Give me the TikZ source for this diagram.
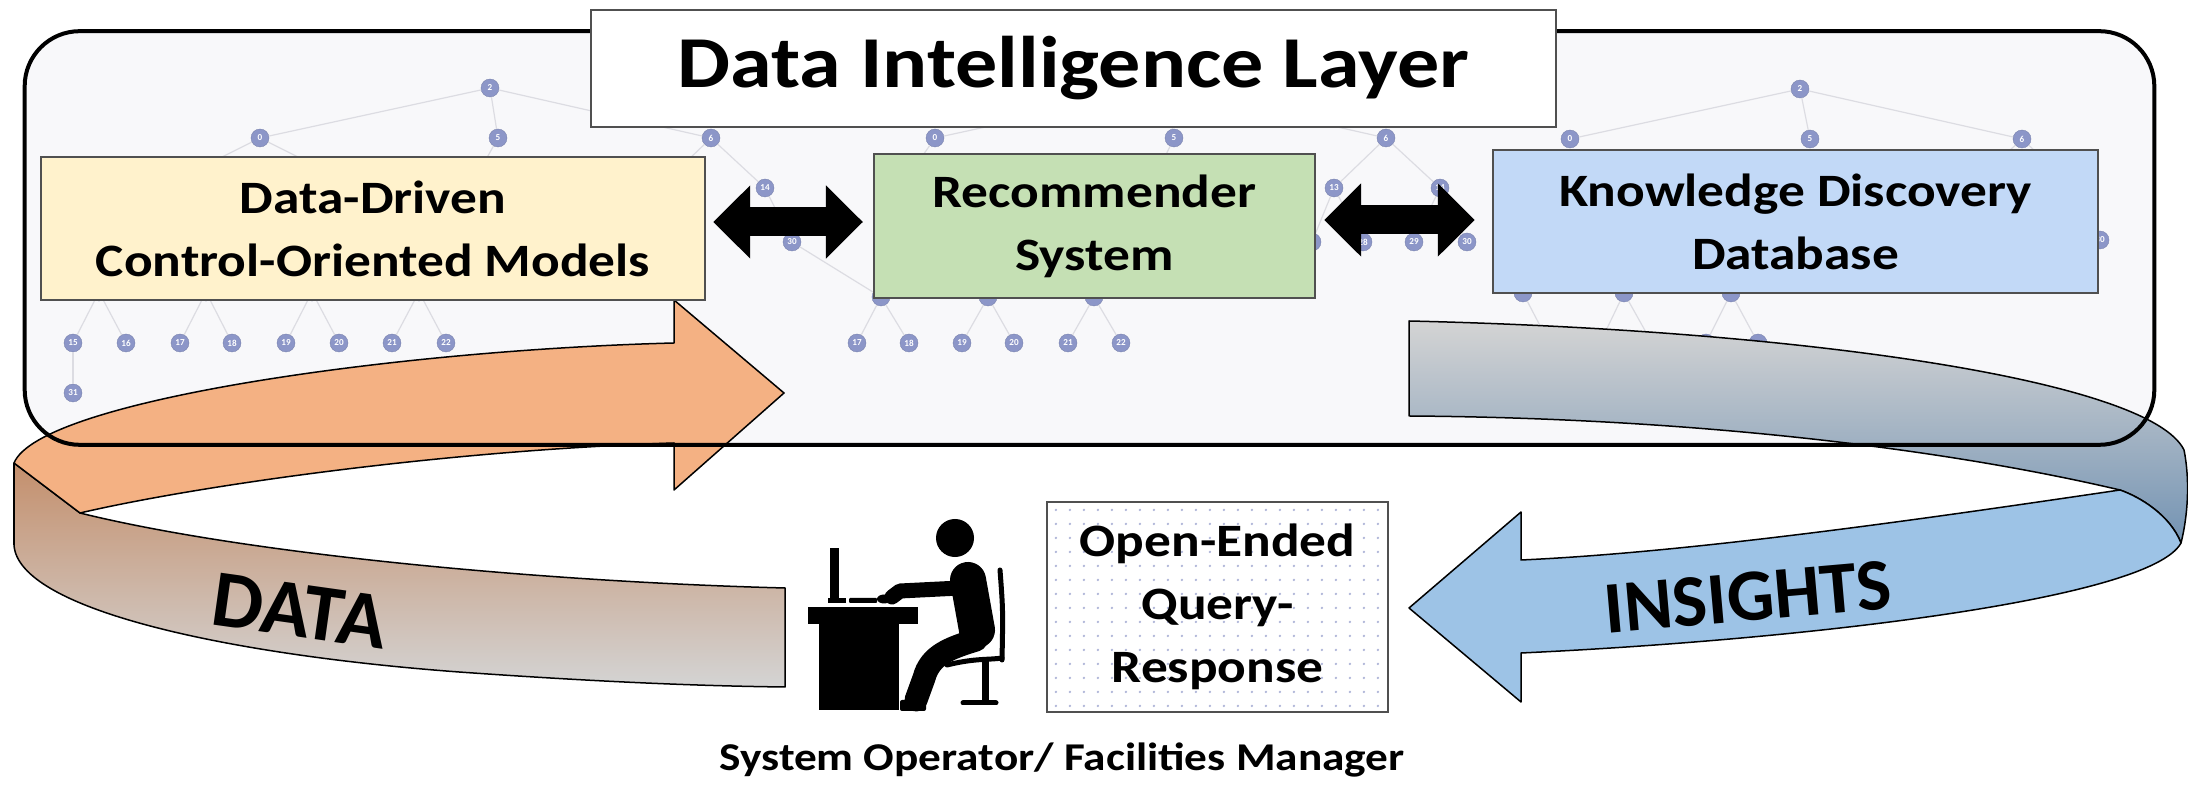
\documentclass[tikz,border=0pt]{standalone}
\usepackage{fontspec}
\usepackage{graphicx}
\setmainfont{Carlito}
\newfontfamily\widefont[FakeStretch=1.15]{Carlito}
\usetikzlibrary{arrows.meta,calc}

\definecolor{layerfill}{HTML}{F8F8FA}
\definecolor{modelfill}{HTML}{FFF2CC}
\definecolor{recfill}{HTML}{C5E0B4}
\definecolor{kddfill}{HTML}{C2D9F7}
\definecolor{boxline}{HTML}{505050}
\definecolor{datatop}{HTML}{F4B183}
\definecolor{databand}{HTML}{C48F6C}
\definecolor{bandgray}{HTML}{D4D4D4}
\definecolor{insfront}{HTML}{9DC3E6}
\definecolor{insback}{HTML}{7393B3}
\definecolor{treenode}{HTML}{8C96C8}
\definecolor{treeedge}{HTML}{DCDCE2}
\definecolor{dotcol}{HTML}{AEB4D8}

\begin{document}
\begin{tikzpicture}[x=0.01cm,y=-0.01cm,
  boxtext/.style={font=\widefont\bfseries\fontsize{13.2pt}{17.9pt}\selectfont, align=center},
  compbox/.style={draw=boxline, line width=0.02cm, boxtext, inner sep=0pt},
  tnode/.style={circle, fill=treenode, draw=treenode!85!black, line width=0.1pt,
    minimum size=0.18cm, inner sep=0pt, text=white,
    font=\bfseries\fontsize{2.6pt}{2.6pt}\selectfont},
  tedge/.style={draw=treeedge, line width=0.012cm},
  fatarrow/.style={draw=black, line width=0.29cm,
    {Triangle[length=0.37cm,width=0.71cm]}-{Triangle[length=0.37cm,width=0.71cm]}},
  ribbon/.style={draw=black, line width=0.015cm, line join=round},
  limb/.style={draw=black, line cap=round, line join=round},
  ribbonlabel/.style={inner sep=0pt, text=black},
]
\useasboundingbox (0,0) rectangle (2188,786);

% ---------- layer background ----------
\node[fill=layerfill, rounded corners=0.55cm, minimum width=21.27cm,
      minimum height=4.12cm, inner sep=0pt] (layer) at (1089.5,238) {};

% ---------- faint tree graph inside the layer ----------
\begin{scope}
\clip[rounded corners=0.55cm] (layer.north west) rectangle (layer.south east);
\foreach \n/\x/\y/\l in {
  L2/490/88/2, L0/260/138/0, L5/498/138/5, L6/711/138/6,
  La/160/188/{}, Lb/360/188/{}, Lc/470/188/{}, L13/659/188/{}, L14/765/188/14,
  L28/688/242/{}, L30/792/242/30,
  Lp1/99/292/{}, Lp2/206/292/{}, Lp3/312/292/{}, Lp4/419/292/{},
  L15/73/343/15, L16/126/343/16, L17/180/343/17, L18/232/343/18,
  L19/286/343/19, L20/339/343/20, L21/392/343/21, L22/446/343/22, L31/73/393/31,
  M2/1165/88/{}, M0/935/138/0, M5/1174/138/5, M6/1386/138/6,
  Ma/900/188/{}, Mc/1150/188/{}, M13/1334/188/13, M14/1440/188/14,
  M27/1312/242/{}, M28/1363/242/28, M29/1414/242/29, M30/1467/242/30,
  Mp2/881/297/{}, Mp3/988/297/{}, Mp4/1094/297/{},
  M17/857/343/17, M18/909/343/18, M19/962/343/19, M20/1014/343/20,
  M21/1068/343/21, M22/1121/343/22,
  R2/1800/89/2, R0/1570/139/0, R5/1810/139/5, R6/2022/139/6,
  R13/1969/188/{}, R14/2075/188/{}, R30/2100/240/30,
  Rp2/1523/293/{}, Rp3/1624/293/{}, Rp4/1731/293/{},
  R18/1549/343/{}, R19/1600/343/{}, R20/1652/343/{}, R21/1706/343/{}, R22/1758/343/{}}
  \node[tnode] (\n) at (\x,\y) {\l};
\foreach \a/\b in {
  L2/L0, L2/L5, L2/L6, L0/La, L0/Lb, L5/Lc, L6/L13, L6/L14, L13/L28, L14/L30,
  Lp1/L15, Lp1/L16, Lp2/L17, Lp2/L18, Lp3/L19, Lp3/L20, Lp4/L21, Lp4/L22, L15/L31,
  L30/Mp2,
  M2/M0, M2/M5, M2/M6, M0/Ma, M5/Mc, M6/M13, M6/M14, M13/M27, M13/M28, M14/M29, M14/M30,
  Mp2/M17, Mp2/M18, Mp3/M19, Mp3/M20, Mp4/M21, Mp4/M22,
  R2/R0, R2/R5, R2/R6, R6/R13, R6/R14, R14/R30,
  Rp2/R18, Rp3/R19, Rp3/R20, Rp4/R21, Rp4/R22}
  \draw[tedge] (\a) -- (\b);
\end{scope}

% ---------- DATA ribbon ----------
% front band (curled part)
\path[ribbon, top color=databand, bottom color=bandgray]
  (14,463) -- (14,545)
  .. controls (18,610) and (230,655) .. (459,672)
  .. controls (600,682) and (700,686) .. (785,687)
  -- (785,588)
  .. controls (550,582) and (250,555) .. (80,513)
  -- cycle;
% upper face with the arrow head
\path[ribbon, fill=datatop]
  (674,343) .. controls (400,350) and (40,400) .. (14,463)
  -- (80,513)
  .. controls (200,485) and (450,450) .. (674,443)
  -- (674,490) -- (784,393) -- (674,300) -- cycle;

% ---------- INSIGHTS ribbon ----------
% back face
\path[ribbon, top color=bandgray, bottom color=insback]
  (1409,321) .. controls (1800,330) and (2150,380) .. (2184,450)
  .. controls (2190,480) and (2188,515) .. (2181,543)
  .. controls (2170,515) and (2140,497) .. (2120,490)
  .. controls (1950,450) and (1700,418) .. (1409,416)
  -- cycle;
% front face with the arrow head
\path[ribbon, fill=insfront]
  (2120,490) .. controls (1950,515) and (1700,552) .. (1521,560)
  -- (1521,512) -- (1409,608) -- (1521,702) -- (1521,653)
  .. controls (1800,640) and (2150,600) .. (2181,543)
  .. controls (2170,515) and (2140,497) .. (2120,490) -- cycle;

% ---------- layer outline ----------
\draw[line width=0.04cm, rounded corners=0.55cm]
  (layer.north west) rectangle (layer.south east);

% ---------- components ----------
\node[draw=boxline, fill=white, line width=0.02cm, minimum width=9.65cm,
      minimum height=1.17cm, inner sep=0pt,
      font=\widefont\bfseries\fontsize{20.8pt}{24pt}\selectfont]
  (title) at (1073.5,68.5) {Data Intelligence Layer};

\node[compbox, fill=modelfill, minimum width=6.64cm, minimum height=1.43cm]
  (ddm) at (373,228.5) {Data-Driven\\Control-Oriented Models};
\node[compbox, fill=recfill, minimum width=4.41cm, minimum height=1.44cm]
  (rec) at (1094.5,226) {Recommender\\System};
\node[compbox, fill=kddfill, minimum width=6.05cm, minimum height=1.43cm]
  (kdd) at (1795.5,221.5) {Knowledge Discovery\\Database};

\draw[fatarrow] ($(ddm.east)+(7,-6.5)$) -- ($(rec.west)+(-10,-4)$);
\draw[fatarrow] ($(rec.east)+(8,-6)$) -- ($(kdd.west)+(-17,-1.5)$);

% ---------- ribbon labels ----------
\node[ribbonlabel, rotate=-8, font=\bfseries\fontsize{23pt}{23pt}\selectfont]
  (datatxt) at (300,611) {DATA};
\node[ribbonlabel, rotate=5, font=\bfseries\fontsize{21pt}{21pt}\selectfont]
  (instxt) at (1748,597) {INSIGHTS};

% ---------- operator at the desk ----------
\fill (808,607) rectangle (918,624);
\fill (819,624) rectangle (899,710);
\fill (830,548) rectangle (839,600);
\fill (828,598) rectangle (846,603);
\fill[rounded corners=0.01cm] (849,598) rectangle (877,603);
\fill (884,599) ellipse (0.07cm and 0.045cm);
\fill (955,538) circle (0.19cm);
\draw[limb, line width=0.36cm] (968,580) -- (977,630);
\draw[limb, line width=0.15cm] (960,588) -- (900,591) -- (892,597);
\draw[limb, line width=0.23cm] (976,640) .. controls (950,648) and (930,655) .. (924,678) -- (916,700);
\fill[rounded corners=0.02cm] (900,700) rectangle (926,711);
\draw[line width=0.05cm, line cap=round] (1000,570) .. controls (1003,610) .. (1002,660);
\draw[line width=0.05cm, line cap=round] (947,665) .. controls (975,658) and (990,660) .. (1002,658);
\draw[line width=0.07cm] (985,660) -- (985,701);
\draw[line width=0.05cm, line cap=round] (963,703) -- (996,703);

\node[font=\widefont\bfseries\fontsize{11.2pt}{13pt}\selectfont, inner sep=0pt]
  (operator) at (1062,760) {System Operator/ Facilities Manager};

% ---------- query box ----------
\node[compbox, fill=white, minimum width=3.41cm, minimum height=2.10cm,
      path picture={
        \foreach \i in {0,...,23}
          \foreach \j in {0,...,14}
            \fill[dotcol] ($(path picture bounding box.north west)+(9+\i*14,8+\j*14)$) circle (0.013cm);
      }]
  (query) at (1217.5,607) {Open-Ended\\Query-\\Response};

\end{tikzpicture}
\end{document}
